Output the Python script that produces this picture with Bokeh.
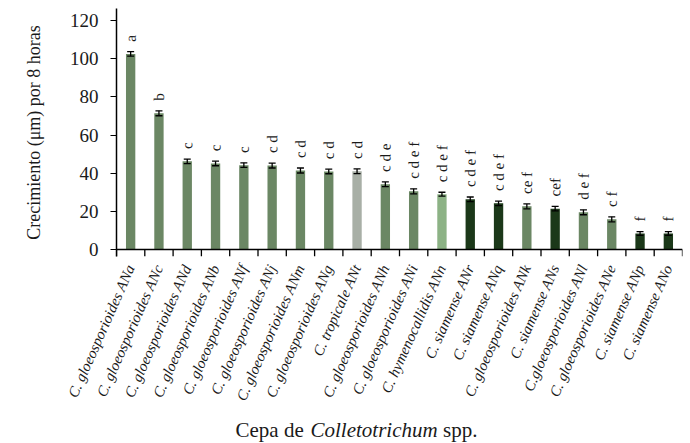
import math
from bokeh.plotting import figure
from bokeh.layouts import column
from bokeh.models import (ColumnDataSource, Label, Whisker, TeeHead,
                          FixedTicker, Range1d, Span, LinearAxis)
from bokeh.embed import file_html
from bokeh.resources import INLINE

# ---- data ----
strains = ["C. gloeosporioides ANa", "C. gloeosporioides ANc", "C. gloeosporioides ANd",
           "C. gloeosporioides ANb", "C. gloeosporioides ANf", "C. gloeosporioides ANj",
           "C. gloeosporioides ANm", "C. gloeosporioides ANg", "C. tropicale ANt",
           "C. gloeosporioides ANh", "C. gloeosporioides ANi", "C. hymenocallidis ANn",
           "C. siamense ANr", "C. siamense ANq", "C. gloeosporioides ANk",
           "C. siamense ANs", "C.gloeosporioides ANl", "C. gloeosporioides ANe",
           "C. siamense ANp", "C. siamense ANo"]
species = ["gloeosporioides"] * 8 + ["tropicale"] + ["gloeosporioides"] * 2 + \
          ["hymenocallidis", "siamense", "siamense", "gloeosporioides", "siamense",
           "gloeosporioides", "gloeosporioides", "siamense", "siamense"]
growth = [102.5, 71.4, 46.2, 45.1, 44.2, 44.0, 41.4, 40.9, 41.0, 34.2,
          30.5, 29.0, 26.3, 24.2, 22.6, 21.4, 19.5, 15.8, 8.4, 8.4]
err = [1.2, 1.3, 1.2, 1.2, 1.2, 1.3, 1.3, 1.2, 1.2, 1.2,
       1.3, 1.0, 1.2, 1.2, 1.3, 1.2, 1.3, 1.3, 1.0, 1.0]
letters = ["a", "b", "c", "c", "c", "c d", "c d", "c d", "c d", "c d e",
           "c d e f", "c d e f", "c d e f", "c d e f", "ce f", "cef", "d e f", "c f", "f", "f"]
yticks = [0, 20, 40, 60, 80, 100, 120]
x_title = [("Cepa de", "normal"), ("Colletotrichum", "italic"), ("spp.", "normal")]

palette = {"gloeosporioides": "#6b8764", "tropicale": "#a8afa6",
           "hymenocallidis": "#8cb285", "siamense": "#1b3819"}

FONT = "Liberation Serif"
TXT = "#1a1a1a"

n = len(strains)
xs = [i + 0.5 for i in range(n)]
upper = [g + e for g, e in zip(growth, err)]
src = ColumnDataSource(dict(
    x=xs, top=growth, upper=upper,
    lower=[g - e for g, e in zip(growth, err)],
    color=[palette[s] for s in species],
))

Y0 = -3.67  # strip below zero holding the boundary tick marks
p = figure(width=690, height=415, x_range=Range1d(0, n), y_range=Range1d(Y0, 126.3),
           output_backend="svg", toolbar_location=None,
           min_border_left=116, min_border_right=8, min_border_top=8,
           min_border_bottom=159)
p.outline_line_color = None
p.xgrid.visible = False
p.ygrid.visible = False

# main x axis: rotated strain names only
xa = p.below[0]
xa.ticker = FixedTicker(ticks=xs)
xa.major_label_overrides = {x: s for x, s in zip(xs, strains)}
xa.major_label_orientation = math.radians(66)
xa.major_label_text_font = FONT
xa.major_label_text_font_style = "italic"
xa.major_label_text_font_size = "15px"
xa.major_label_text_color = TXT
xa.major_label_standoff = 3
xa.axis_line_color = None
xa.major_tick_line_color = None
xa.minor_tick_line_color = None

ya = p.left[0]
ya.ticker = FixedTicker(ticks=yticks)
ya.minor_tick_line_color = None
ya.major_tick_out = 6
ya.major_tick_in = 0
ya.major_label_standoff = 12
ya.major_label_text_font = FONT
ya.major_label_text_font_size = "19px"
ya.major_label_text_color = TXT
ya.axis_line_width = 1.5
ya.axis_label = "Crecimiento (μm) por 8 horas"
ya.axis_label_text_font = FONT
ya.axis_label_text_font_size = "18px"
ya.axis_label_text_font_style = "normal"
ya.axis_label_text_color = TXT
ya.axis_label_standoff = 23

p.vbar(x="x", top="top", bottom=0, width=0.33, fill_color="color",
       line_color=None, source=src)

wh = Whisker(source=src, base="x", upper="upper", lower="lower",
             line_color="black", line_width=1.3, level="annotation",
             upper_head=TeeHead(size=7, line_width=1.3, line_color="black"),
             lower_head=TeeHead(size=7, line_width=1.3, line_color="black"))
p.add_layout(wh)

# x axis line at zero and boundary ticks
p.add_layout(Span(location=0, dimension="width", line_color="black", line_width=1.5))
bounds = list(range(n + 1))
p.segment(x0=bounds, y0=[0] * (n + 1), x1=bounds, y1=[Y0] * (n + 1),
          line_color="black", line_width=1.3)

# significance letters: (near-)vertical text just above each error bar
for xi, ui, lt in zip(xs, upper, letters):
    ax = LinearAxis(fixed_location=ui, ticker=FixedTicker(ticks=[xi]),
                    major_label_overrides={xi: lt},
                    major_label_orientation=math.radians(89.5),
                    axis_line_color=None, major_tick_line_color=None,
                    minor_tick_line_color=None, major_label_standoff=4,
                    major_label_text_font=FONT, major_label_text_font_size="15px",
                    major_label_text_color=TXT)
    p.add_layout(ax, "above")

# x-axis title strip (frame aligned with the main plot; 1 unit = 1 px)
p2 = figure(width=690, height=28, x_range=Range1d(0, 566), y_range=Range1d(0, 28),
            output_backend="svg", toolbar_location=None, x_axis_type=None,
            y_axis_type=None, min_border=0)
p2.outline_line_color = None
p2.xgrid.visible = False
p2.ygrid.visible = False
offsets = [0, 75, 207.5]
for (t, st), off in zip(x_title, offsets):
    p2.add_layout(Label(x=119, y=14, x_offset=off, text=t, text_font=FONT,
                        text_font_style=st, text_font_size="21px", text_color=TXT,
                        text_align="left", text_baseline="alphabetic"))

layout = column(p, p2, spacing=0)
open("out.html", "w").write(file_html(layout, INLINE))
